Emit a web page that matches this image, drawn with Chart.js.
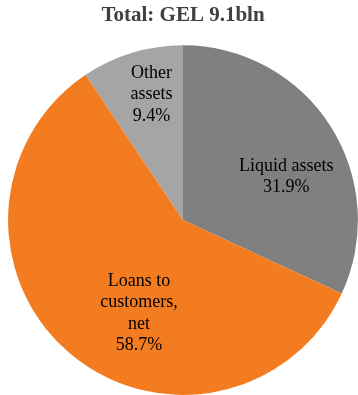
<!DOCTYPE html>
<html>
<head>
<meta charset="utf-8">
<script src="https://cdn.jsdelivr.net/npm/chart.js@4"></script>
<style>
  html, body { margin: 0; padding: 0; background: #fff; overflow: hidden; }
  #wrap { width: 358px; height: 395px; }
</style>
</head>
<body>
<div id="wrap"><canvas id="myChartAssets"></canvas></div>
<script>
// === data
var categories = ["Liquid assets", "Loans to customers, net", "Other assets"];
var shares = [31.9, 58.7, 9.4];
var labelLines = [["Liquid assets"], ["Loans to", "customers,", "net"], ["Other", "assets"]];
var sliceColors = ["#808080", "#F47C20", "#A5A5A5"];

// label placement inside each slice: angle shift (deg) and fraction of radius
var labelShift = [9.9, -15.3, 2.8];
var labelDist = [0.64, 0.59, 0.74];

var sliceLabels = {
  id: "sliceLabels",
  afterDatasetsDraw: function (chart) {
    var ctx = chart.ctx;
    var arcs = chart.getDatasetMeta(0).data;
    ctx.save();
    ctx.font = "18px 'Liberation Serif', 'Times New Roman', serif";
    ctx.fillStyle = "#000";
    ctx.textAlign = "center";
    ctx.textBaseline = "middle";
    arcs.forEach(function (arc, i) {
      var p = arc.getProps(["x", "y", "startAngle", "endAngle", "outerRadius"], true);
      var a = (p.startAngle + p.endAngle) / 2 + labelShift[i] * Math.PI / 180;
      var r = p.outerRadius * labelDist[i];
      var cx = p.x + Math.cos(a) * r;
      var cy = p.y + Math.sin(a) * r;
      var lines = labelLines[i].concat([shares[i].toFixed(1) + "%"]);
      var lh = 21.5;
      var top = cy - (lines.length - 1) * lh / 2;
      lines.forEach(function (t, k) {
        ctx.fillText(t, cx, top + k * lh);
      });
    });
    ctx.restore();
  }
};

var chAssets = document.getElementById("myChartAssets").getContext("2d");

var myChartAssets = new Chart(chAssets, {
  type: "pie",
  plugins: [sliceLabels],
  options: {
    responsive: true,
    maintainAspectRatio: false,
    animation: false,
    layout: {
      padding: { left: 8, right: 0, top: 0, bottom: 0 },
    },
    plugins: {
      legend: { display: false },
      tooltip: { enabled: false },
      title: {
        display: true,
        text: "Total: GEL 9.1bln",
        color: "#404040",
        font: { family: "'Liberation Serif', 'Times New Roman', serif", size: 21, weight: "bold" },
        padding: { top: 3, bottom: 17 },
      },
    },
  },
  data: {
    labels: categories,
    datasets: [
      {
        data: shares,
        backgroundColor: sliceColors,
        borderWidth: 0,
      },
    ],
  },
});
</script>
</body>
</html>
